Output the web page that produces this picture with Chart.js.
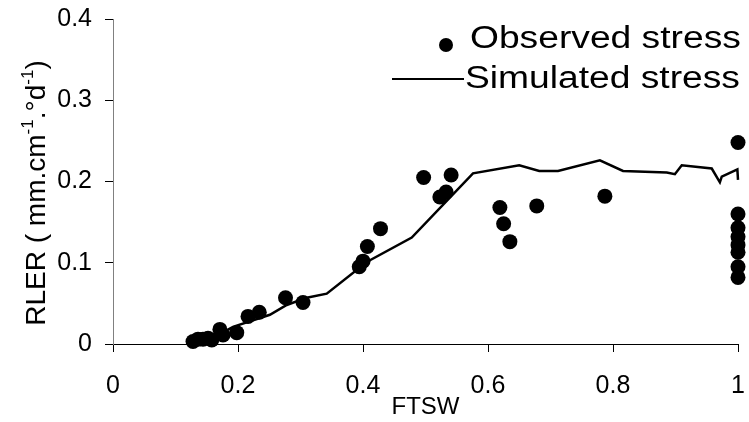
<!DOCTYPE html>
<html>
<head>
<meta charset="utf-8">
<script src="https://cdn.jsdelivr.net/npm/chart.js@4.4.1/dist/chart.umd.min.js"></script>
<style>
  html, body { margin: 0; padding: 0; background: #fff; }
  #wrap { width: 749px; height: 422px; }
</style>
</head>
<body>
<div id="wrap"><canvas id="rlerChart" width="749" height="422"></canvas></div>
<script>
// Observed stress (FTSW, RLER)
const obsFtsw = [0.128, 0.136, 0.144, 0.152, 0.158, 0.171, 0.176, 0.198, 0.216, 0.234, 0.276, 0.304,
                 0.394, 0.400, 0.407, 0.428, 0.497, 0.523, 0.533, 0.541, 0.619, 0.625, 0.635, 0.678,
                 0.787, 1.0, 1.0, 1.0, 1.0, 1.0, 1.0, 1.0, 1.0];
const obsRler = [0.003, 0.006, 0.006, 0.007, 0.005, 0.018, 0.011, 0.014, 0.034, 0.039, 0.057, 0.051,
                 0.095, 0.102, 0.120, 0.142, 0.205, 0.181, 0.187, 0.208, 0.168, 0.148, 0.126, 0.170,
                 0.182, 0.248, 0.160, 0.143, 0.132, 0.122, 0.113, 0.095, 0.082];

// Simulated stress
const simFtsw = [0.128, 0.16, 0.192, 0.251, 0.278, 0.31, 0.342, 0.406, 0.478, 0.576, 0.65, 0.682,
                 0.712, 0.779, 0.816, 0.886, 0.899, 0.91, 0.958, 0.971, 0.974, 0.999, 1.0];
const simRler = [0.001, 0.008, 0.021, 0.036, 0.048, 0.057, 0.062, 0.101, 0.131, 0.210, 0.220, 0.213,
                 0.213, 0.226, 0.213, 0.211, 0.209, 0.220, 0.216, 0.199, 0.206, 0.215, 0.202];

const xTicks = [0, 0.2, 0.4, 0.6, 0.8, 1];
const yTicks = [0, 0.1, 0.2, 0.3, 0.4];

const legendItems = ['Observed stress', 'Simulated stress'];

const toPoints = (xs, ys) => xs.map((x, i) => ({ x: x, y: ys[i] }));

const FONT = '"Liberation Sans", Arial, sans-serif';

// keep the plot box where the reference has it
function fixScale(s, size) {
    if (s.isHorizontal()) s.height = size; else s.width = size;
    s.paddingTop = 0;
    s.paddingBottom = 0;
    s.paddingLeft = 0;
    s.paddingRight = 0;
}

// legend + y title drawn by hand (superscripts)
const extrasPlugin = {
    id: 'extras',
    afterDraw(chart) {
        const ctx = chart.ctx;
        ctx.save();
        ctx.fillStyle = '#000';
        ctx.strokeStyle = '#000';

        // legend
        ctx.beginPath();
        ctx.arc(446, 45, 7, 0, Math.PI * 2);
        ctx.fill();
        ctx.lineWidth = 2;
        ctx.beginPath();
        ctx.moveTo(392, 79);
        ctx.lineTo(464, 79);
        ctx.stroke();

        ctx.font = '31px ' + FONT;
        ctx.textBaseline = 'alphabetic';
        ctx.textAlign = 'left';
        ctx.save();
        ctx.translate(470, 48);
        ctx.scale(1.2, 1);
        ctx.fillText(legendItems[0], 0, 0);
        ctx.restore();
        ctx.save();
        ctx.translate(465, 88);
        ctx.scale(1.2, 1);
        ctx.fillText(legendItems[1], 0, 0);
        ctx.restore();

        // y axis title
        const parts = [
            ['RLER ( mm.cm', 28, 0],
            ['-1', 17, -12],
            ['.°d', 28, 0],
            ['-1', 17, -12],
            [')', 28, 0]
        ];
        let total = 0;
        parts.forEach(p => { ctx.font = p[1] + 'px ' + FONT; total += ctx.measureText(p[0]).width; });
        ctx.translate(45, 193 + total / 2);
        ctx.rotate(-Math.PI / 2);
        let cx = 0;
        parts.forEach(p => {
            ctx.font = p[1] + 'px ' + FONT;
            ctx.fillText(p[0], cx, p[2]);
            cx += ctx.measureText(p[0]).width;
        });
        ctx.restore();
    }
};

const ctx = document.getElementById('rlerChart').getContext('2d');
new Chart(ctx, {
    type: 'scatter',
    data: {
        datasets: [
            {
                label: legendItems[0],
                data: toPoints(obsFtsw, obsRler),
                pointRadius: 7.5,
                pointBackgroundColor: '#000',
                pointBorderWidth: 0,
                showLine: false,
                clip: false
            },
            {
                label: legendItems[1],
                data: toPoints(simFtsw, simRler),
                showLine: true,
                borderColor: '#000',
                borderWidth: 2.5,
                pointRadius: 0,
                tension: 0,
                clip: false
            }
        ]
    },
    options: {
        responsive: false,
        animation: false,
        layout: { autoPadding: false, padding: { top: 19, right: 11, left: 0, bottom: 0 } },
        plugins: {
            legend: { display: false },
            tooltip: { enabled: false }
        },
        scales: {
            x: {
                type: 'linear',
                min: 0,
                max: 1,
                afterFit: s => fixScale(s, 78),
                afterBuildTicks: s => { s.ticks = xTicks.map(v => ({ value: v })); },
                grid: { drawOnChartArea: false, drawTicks: true, tickLength: 8, color: '#000' },
                border: { color: '#000', width: 1 },
                ticks: {
                    color: '#000',
                    padding: 19,
                    maxRotation: 0,
                    font: { family: FONT, size: 25 },
                    callback: v => String(v)
                },
                title: {
                    display: true,
                    text: 'FTSW',
                    color: '#000',
                    font: { family: FONT, size: 24 },
                    padding: { top: 0, bottom: 0 }
                }
            },
            y: {
                type: 'linear',
                min: 0,
                max: 0.4,
                afterFit: s => fixScale(s, 113),
                afterBuildTicks: s => { s.ticks = yTicks.map(v => ({ value: v })); },
                grid: { drawOnChartArea: false, drawTicks: true, tickLength: 8, color: '#000' },
                border: { color: '#808080', width: 1 },
                ticks: {
                    color: '#000',
                    padding: 13,
                    font: { family: FONT, size: 25 },
                    callback: v => String(v)
                }
            }
        }
    },
    plugins: [extrasPlugin]
});
</script>
</body>
</html>
